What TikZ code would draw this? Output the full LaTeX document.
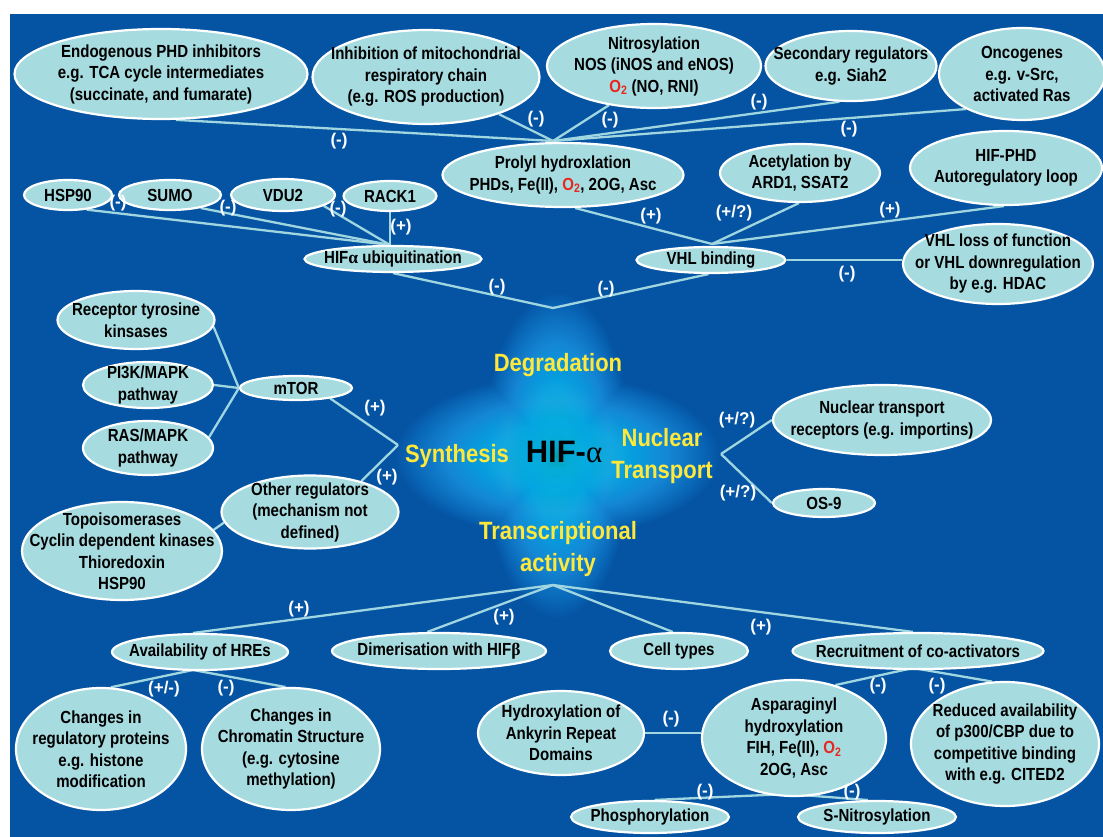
\documentclass[tikz,border=0pt]{standalone}
\usepackage{fontspec}
\setmainfont{Liberation Sans}[FakeStretch=0.86]
\newfontfamily\cenfont{Liberation Sans}[FakeStretch=0.88]
\newfontfamily\lblfont{Liberation Sans}
\newfontfamily\grkfont{Liberation Serif}
\usetikzlibrary{shapes.geometric}
\definecolor{bgblue}{RGB}{5,84,164}
\definecolor{ellfill}{RGB}{166,219,224}
\definecolor{linec}{RGB}{160,214,224}
\definecolor{ylw}{RGB}{255,232,60}
\definecolor{oxred}{RGB}{232,40,30}
\definecolor{glowA}{RGB}{0,158,175}
\definecolor{glowB}{RGB}{0,172,215}
\definecolor{glowC}{RGB}{0,165,225}
\definecolor{glowD}{RGB}{20,135,212}
\definecolor{glowE}{RGB}{10,105,185}
\pgfdeclareradialshading{glowshade}{\pgfpointorigin}{color(0bp)=(glowA); color(4bp)=(glowB); color(10bp)=(glowC); color(17bp)=(glowD); color(22bp)=(glowE); color(25bp)=(bgblue); color(50bp)=(bgblue)}
\pgfdeclarelayer{bg}
\pgfsetlayers{bg,main}
\newcommand\oxy{\textcolor{oxred}{O\textsubscript{2}}}
\begin{document}
\begin{tikzpicture}[x=1pt,y=-1pt,
  ell/.style={ellipse, draw=white, line width=2.2pt, fill=ellfill, inner xsep=-40pt, inner ysep=-30pt,
    align=center, text=black, font=\fontsize{17.5}{21.5}\selectfont\bfseries},
  lbl/.style={text=white, inner sep=0pt, font=\lblfont\bfseries\fontsize{17}{20}\selectfont},
  ylab/.style={text=ylw, inner sep=0pt, align=center, font=\cenfont\bfseries\fontsize{25}{32}\selectfont},
  conn/.style={draw=linec, line width=2.3pt}]
\useasboundingbox (0,0) rectangle (1103,837);
% ---------- nodes: top ----------
\node[ell, minimum width=293, minimum height=90] (endo) at (161,74) {Endogenous PHD inhibitors\\e.g. TCA cycle intermediates\\(succinate, and fumarate)};
\node[ell, minimum width=227, minimum height=94] (inhib) at (426,77) {Inhibition of mitochondrial\\respiratory chain\\(e.g. ROS production)};
\node[ell, minimum width=214, minimum height=84] (nitro) at (654,66) {Nitrosylation\\NOS (iNOS and eNOS)\\\oxy{} (NO, RNI)};
\node[ell, minimum width=171, minimum height=70] (second) at (851,66) {Secondary regulators\\e.g. Siah2};
\node[ell, minimum width=166, minimum height=92] (onco) at (1022,74) {Oncogenes\\e.g. v-Src,\\activated Ras};
\node[ell, minimum width=241, minimum height=64] (prolyl) at (563,175) {Prolyl hydroxlation\\PHDs, Fe(II), \oxy, 2OG, Asc};
\node[ell, minimum width=160, minimum height=58] (acet) at (800,173) {Acetylation by\\ARD1, SSAT2};
\node[ell, minimum width=192, minimum height=74] (hifphd) at (1006,168) {HIF-PHD\\Autoregulatory loop};
\node[ell, minimum width=88, minimum height=30] (hsp) at (68,195) {HSP90};
\node[ell, minimum width=102, minimum height=30] (sumo) at (170,195) {SUMO};
\node[ell, minimum width=104, minimum height=32] (vdu) at (283,195) {VDU2};
\node[ell, minimum width=93, minimum height=30] (rack) at (390,196) {RACK1};
\node[ell, minimum width=177, minimum height=26] (ubiq) at (393,259) {HIF{\grkfont α} ubiquitination};
\node[ell, minimum width=149, minimum height=26] (vhlb) at (711,260) {VHL binding};
\node[ell, minimum width=190, minimum height=80] (vhll) at (998,264) {VHL loss of function\\or VHL downregulation\\by e.g. HDAC};
% ---------- left ----------
\node[ell, minimum width=157, minimum height=58] (rtk) at (136,320) {Receptor tyrosine\\kinsases};
\node[ell, minimum width=130, minimum height=46] (pi3k) at (148,385) {PI3K/MAPK\\pathway};
\node[ell, minimum width=130, minimum height=54] (ras) at (148,448) {RAS/MAPK\\pathway};
\node[ell, minimum width=112, minimum height=24] (mtor) at (296,388) {mTOR};
\node[ell, minimum width=177, minimum height=73] (other) at (310,512) {Other regulators\\(mechanism not\\defined)};
\node[ell, minimum width=200, minimum height=98] (topo) at (122,551) {Topoisomerases\\Cyclin dependent kinases\\Thioredoxin\\HSP90};
% ---------- right ----------
\node[ell, minimum width=218, minimum height=70] (ntr) at (882,420) {Nuclear transport\\receptors (e.g. importins)};
\node[ell, minimum width=102, minimum height=28] (os9) at (824,503) {OS-9};
% ---------- bottom ----------
\node[ell, minimum width=176, minimum height=36] (avail) at (200,652) {Availability of HREs};
\node[ell, minimum width=214, minimum height=36] (dimer) at (439,651) {Dimerisation with HIF{\grkfont β}};
\node[ell, minimum width=138, minimum height=36] (cell) at (679,651) {Cell types};
\node[ell, minimum width=251, minimum height=36] (recr) at (918,651) {Recruitment of co-activators};
\node[ell, minimum width=170, minimum height=122] (chreg) at (101,749) {Changes in\\regulatory proteins\\e.g. histone\\modification};
\node[ell, minimum width=178, minimum height=122] (chrom) at (291,749) {Changes in\\Chromatin Structure\\(e.g. cytosine\\methylation)};
\node[ell, minimum width=166, minimum height=84] (hydrox) at (561,733) {Hydroxylation of\\Ankyrin Repeat\\Domains};
\node[ell, minimum width=184, minimum height=116] (aspar) at (794,738) {Asparaginyl\\hydroxylation\\FIH, Fe(II), \oxy\\2OG, Asc};
\node[ell, minimum width=188, minimum height=124] (reduced) at (1005,744) {Reduced availability\\of p300/CBP due to\\competitive binding\\with e.g. CITED2};
\node[ell, minimum width=158, minimum height=32] (phos) at (650,817) {Phosphorylation};
\node[ell, minimum width=158, minimum height=32] (snitro) at (877,817) {S-Nitrosylation};
% ---------- centre ----------
\node[ylab, anchor=base] (degr) at (558,371) {Degradation};
\node[ylab, anchor=base] (synth) at (457,462) {Synthesis};
\node[ylab] (nuc) at (662,456) {Nuclear\\Transport};
\node[ylab] (trans) at (558,549) {Transcriptional\\activity};
\node[inner sep=0pt, anchor=base, text=black, font=\bfseries\fontsize{31}{36}\selectfont] (hif) at (564,462) {\lblfont HIF-{\grkfont\mdseries α}};
% ---------- junctions ----------
\coordinate (jTop) at (553,141);
\coordinate (jUb) at (390,245);
\coordinate (jVhl) at (712,244);
\coordinate (jDeg) at (553,308);
\coordinate (jSyn) at (398,445);
\coordinate (jNuc) at (721,454);
\coordinate (jTr) at (553,585);
\coordinate (jAv) at (193,670);
\coordinate (jRe) at (913,668);
\coordinate (jAs) at (788,794);
% ---------- labels ----------
\node[lbl] (l1) at (339,141) {(-)};
\node[lbl] (l2) at (536,119) {(-)};
\node[lbl] (l3) at (610,120) {(-)};
\node[lbl] (l4) at (759,102) {(-)};
\node[lbl] (l5) at (849,129) {(-)};
\node[lbl] (l6) at (651,216) {(+)};
\node[lbl] (l7) at (734,213) {(+/?)};
\node[lbl] (l8) at (890,210) {(+)};
\node[lbl] (l9) at (847,274) {(-)};
\node[lbl] (l10) at (118,203) {(-)};
\node[lbl] (l11) at (228,208) {(-)};
\node[lbl] (l12) at (338,209) {(-)};
\node[lbl] (l13) at (401,227) {(+)};
\node[lbl] (l14) at (497,287) {(-)};
\node[lbl] (l15) at (606,289) {(-)};
\node[lbl] (l16) at (375,408) {(+)};
\node[lbl] (l17) at (387,477) {(+)};
\node[lbl] (l18) at (737,420) {(+/?)};
\node[lbl] (l19) at (738,493) {(+/?)};
\node[lbl] (l20) at (299,609) {(+)};
\node[lbl] (l21) at (504,617) {(+)};
\node[lbl] (l22) at (761,627) {(+)};
\node[lbl] (l23) at (164,689) {(+/-)};
\node[lbl] (l24) at (226,688) {(-)};
\node[lbl] (l25) at (878,686) {(-)};
\node[lbl] (l26) at (937,686) {(-)};
\node[lbl] (l27) at (671,719) {(-)};
\node[lbl] (l28) at (705,792) {(-)};
\node[lbl] (l29) at (852,792) {(-)};
% ---------- background, glow, connectors ----------
\begin{pgfonlayer}{bg}
\fill[white] (0,0) rectangle (1103,837);
\fill[bgblue] (10,14) rectangle (1103,837);
\begin{scope}[blend mode=lighten]
\shade[shading=glowshade] (482,292) rectangle (632,618);
\shade[shading=glowshade] (395,375) rectangle (719,537);
\end{scope}
\draw[conn] (endo.-72) -- (jTop);
\draw[conn] (inhib.-27) -- (jTop);
\draw[conn] (nitro.-139) -- (jTop);
\draw[conn] (second.-108) -- (jTop);
\draw[conn] (onco.-148) -- (jTop);
\draw[conn] (prolyl.-70) -- (jVhl);
\draw[conn] (acet.-92) -- (jVhl);
\draw[conn] (hifphd.-93) -- (jVhl);
\draw[conn] (vhlb.east) -- (vhlb.east -| vhll.west);
\draw[conn] (hsp.-38) -- (jUb);
\draw[conn] (sumo.-23) -- (jUb);
\draw[conn] (vdu.-15) -- (jUb);
\draw[conn] (rack.south) -- (jUb);
\draw[conn] (ubiq.south) -- (jDeg);
\draw[conn] (vhlb.-100) -- (jDeg);
\draw[conn] (rtk.-5) -- (mtor.west);
\draw[conn] (pi3k.east) -- (mtor.west);
\draw[conn] (ras.10) -- (mtor.west);
\draw[conn] (mtor.-17) -- (jSyn);
\draw[conn] (other.31) -- (jSyn);
\draw[conn] (topo.13) -- (other.187);
\draw[conn] (jNuc) -- (ntr.west);
\draw[conn] (jNuc) -- (os9.west);
\draw[conn] (jTr) -- (avail.110);
\draw[conn] (jTr) -- (dimer.122);
\draw[conn] (jTr) -- (cell.108);
\draw[conn] (jTr) -- (recr.105);
\draw[conn] (jAv) -- (chreg.81);
\draw[conn] (jAv) -- (chrom.95);
\draw[conn] (jRe) -- (aspar.52);
\draw[conn] (jRe) -- (reduced.102);
\draw[conn] (hydrox.east) -- (hydrox.east -| aspar.west);
\draw[conn] (jAs) -- (phos.75);
\draw[conn] (jAs) -- (snitro.118);
\end{pgfonlayer}
\end{tikzpicture}
\end{document}
